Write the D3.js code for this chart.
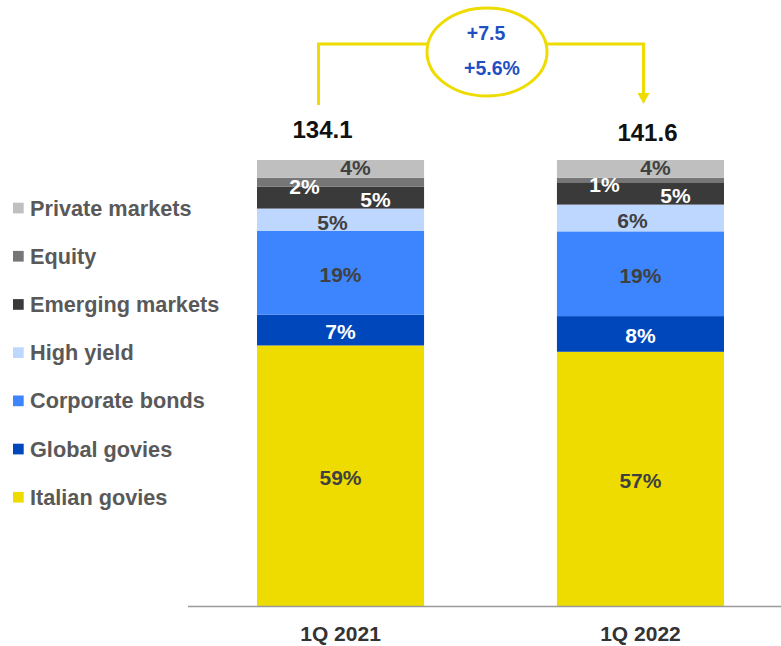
<!DOCTYPE html>
<html>
<head>
<meta charset="utf-8">
<script src="https://cdn.jsdelivr.net/npm/d3@7"></script>
<style>
  html, body { margin: 0; padding: 0; background: #fff; }
  svg { display: block; font-family: Arial, "Liberation Sans", sans-serif; }
</style>
</head>
<body>
<svg id="chart" width="781" height="646"></svg>
<script>
// Portfolio mix by asset class (percent of total), bottom to top
const periods = ["1Q 2021", "1Q 2022"];
const totals = [134.1, 141.6];
const assetClasses = ["Italian govies", "Global govies", "Corporate bonds", "High yield",
                      "Emerging markets", "Equity", "Private markets"];
const italianGovies   = [59, 57];
const globalGovies    = [7, 8];
const corporateBonds  = [19, 19];
const highYield       = [5, 6];
const emergingMarkets = [5, 5];
const equity          = [2, 1];
const privateMarkets  = [4, 4];
const changeAbs = "+7.5";
const changePct = "+5.6%";

const colors = ["#eedc00", "#0047bb", "#3d85ff", "#bdd7fe", "#3a3a3a", "#767676", "#bfbfbf"];
const labelColors = ["#404040", "#ffffff", "#404040", "#404040", "#ffffff", "#ffffff", "#404040"];
// horizontal / vertical nudges for labels of thin segments
const labelDx = { "Emerging markets": 35, "Equity": -36, "Private markets": 15, "High yield": -8 };
const labelDy = { "Emerging markets": 0, "Equity": 2.5, "Private markets": -3.3, "High yield": 1 };

const seriesValues = [italianGovies, globalGovies, corporateBonds, highYield,
                      emergingMarkets, equity, privateMarkets];
const rows = periods.map((p, i) => {
  const r = { period: p };
  assetClasses.forEach((a, k) => r[a] = seriesValues[k][i]);
  return r;
});

const svg = d3.select("#chart");

const x = d3.scaleBand().domain(periods).range([257, 724]).paddingInner(0.443).paddingOuter(0);
const y = d3.scaleLinear().domain([0, 1]).range([606, 160]);

const stack = d3.stack().keys(assetClasses).offset(d3.stackOffsetExpand);
const stacked = stack(rows);

const layers = svg.append("g").selectAll("g").data(stacked).join("g")
  .attr("fill", (d, i) => colors[i]);

layers.selectAll("rect").data(d => d).join("rect")
  .attr("x", d => x(d.data.period))
  .attr("width", x.bandwidth())
  .attr("y", d => y(d[1]))
  .attr("height", d => y(d[0]) - y(d[1]));

// segment labels
stacked.forEach((layer, i) => {
  const key = layer.key;
  svg.append("g").selectAll("text").data(layer).join("text")
    .attr("x", d => x(d.data.period) + x.bandwidth() / 2 + (labelDx[key] || 0))
    .attr("y", d => (y(d[0]) + y(d[1])) / 2 + 9.4 + (labelDy[key] || 0))
    .attr("text-anchor", "middle")
    .attr("font-size", 21)
    .attr("font-weight", "bold")
    .attr("fill", labelColors[i])
    .text(d => d.data[key] + "%");
});

// axis baseline
svg.append("line")
  .attr("x1", 188).attr("x2", 781)
  .attr("y1", y(0) + 0.5).attr("y2", y(0) + 0.5)
  .attr("stroke", "#9a9a9a").attr("stroke-width", 1.5);

const xAxis = svg.append("g")
  .attr("transform", `translate(0,${y(0)})`)
  .call(d3.axisBottom(x).tickSize(0).tickPadding(20));
xAxis.select(".domain").remove();
xAxis.selectAll("text")
  .attr("font-size", 21).attr("font-weight", "bold")
  .attr("fill", "#333").attr("font-family", "Arial, 'Liberation Sans', sans-serif");

// totals above bars
svg.append("g").selectAll("text").data(periods).join("text")
  .attr("x", (d, i) => x(d) + x.bandwidth() / 2 + (i === 0 ? -18 : 7))
  .attr("y", (d, i) => i === 0 ? 138 : 141)
  .attr("text-anchor", "middle")
  .attr("font-size", 24).attr("font-weight", "bold").attr("fill", "#111")
  .text((d, i) => totals[i].toFixed(1));

// legend
const legend = svg.append("g").selectAll("g")
  .data(assetClasses.slice().reverse()).join("g")
  .attr("transform", (d, i) => `translate(13,${208 + i * 48.2})`);
legend.append("rect")
  .attr("y", -5.3).attr("width", 10.7).attr("height", 10.7)
  .attr("fill", d => colors[assetClasses.indexOf(d)]);
legend.append("text")
  .attr("x", 17).attr("y", 7.5)
  .attr("font-size", 21.7).attr("font-weight", "bold").attr("fill", "#595959")
  .text(d => d);

// change annotation: bracket with ellipse and arrow
const yellow = "#eedc00";
const cx = 487, cy = 52, rx = 60, ry = 44;
const leftX = x(periods[0]) + x.bandwidth() / 2 - 22;
const rightX = x(periods[1]) + x.bandwidth() / 2 + 3;
const topY = 44;
const ann = svg.append("g").attr("fill", "none").attr("stroke", yellow).attr("stroke-width", 3);
ann.append("path").attr("d", `M${leftX},105 V${topY} H${cx - rx + 1}`);
ann.append("path").attr("d", `M${cx + rx - 1},${topY} H${rightX} V95`);
ann.append("ellipse").attr("cx", cx).attr("cy", cy).attr("rx", rx).attr("ry", ry);
svg.append("path")
  .attr("d", `M${rightX - 6},93 L${rightX + 6},93 L${rightX},104 Z`)
  .attr("fill", yellow);

svg.append("text").attr("x", cx - 1).attr("y", 40)
  .attr("text-anchor", "middle").attr("font-size", 19.5).attr("font-weight", "bold")
  .attr("fill", "#1f4fc1").text(changeAbs);
svg.append("text").attr("x", cx + 5).attr("y", 75)
  .attr("text-anchor", "middle").attr("font-size", 19.5).attr("font-weight", "bold")
  .attr("fill", "#1f4fc1").text(changePct);
</script>
</body>
</html>
